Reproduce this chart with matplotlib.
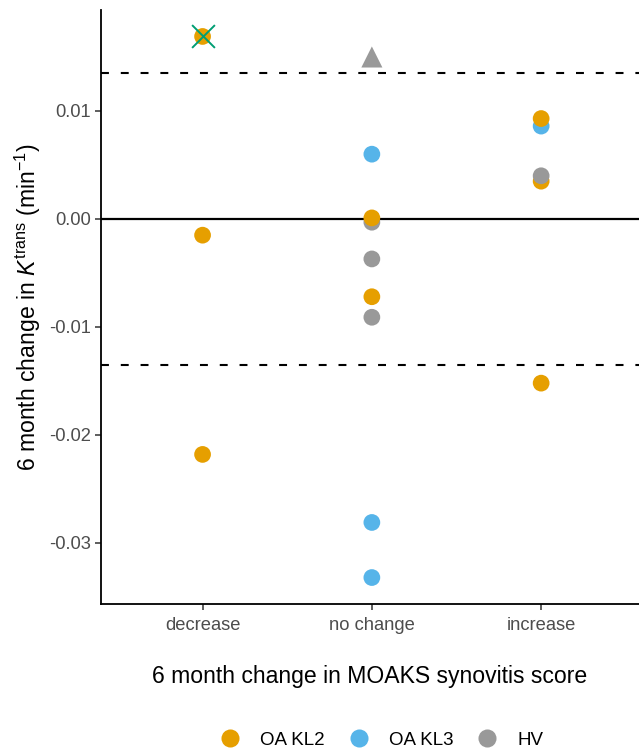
import matplotlib
matplotlib.use("Agg")
import matplotlib.pyplot as plt
from matplotlib.lines import Line2D

plt.rcParams['font.family'] = ['Liberation Sans', 'DejaVu Sans']
plt.rcParams['mathtext.fontset'] = 'custom'
plt.rcParams['mathtext.rm'] = 'Liberation Sans'
plt.rcParams['mathtext.it'] = 'Liberation Sans:italic'

categories = ["decrease", "no change", "increase"]
groups = ["OA KL2", "OA KL3", "HV"]
group_colors = {"OA KL2": "#E69F00", "OA KL3": "#56B4E9", "HV": "#999999"}

# points in drawing order
point_cat = ["decrease", "decrease", "decrease",
             "no change", "no change", "no change", "no change", "no change",
             "no change", "no change", "no change",
             "increase", "increase", "increase", "increase", "increase"]
point_grp = ["OA KL2", "OA KL2", "OA KL2",
             "OA KL3", "HV", "OA KL2", "HV", "OA KL2",
             "HV", "OA KL3", "OA KL3",
             "OA KL3", "OA KL2", "OA KL2", "HV", "OA KL2"]
point_val = [0.0169, -0.0015, -0.0218,
             0.0060, -0.0003, 0.0001, -0.0037, -0.0072,
             -0.0091, -0.0281, -0.0332,
             0.0086, 0.0093, 0.0035, 0.0040, -0.0152]

# outliers
triangle_cat = ["no change"]
triangle_val = [0.0150]
cross_cat = ["decrease"]
cross_val = [0.0169]

threshold = 0.0135

fig = plt.figure(figsize=(6.39, 7.49), dpi=100)
ax = fig.add_axes([101/639, 1 - 604/749, 1 - 101/639, (604 - 10)/749])

xpos = {c: i + 1 for i, c in enumerate(categories)}

ax.axhline(0, color="black", lw=1.6, zorder=1)
ax.axhline(threshold, color="black", lw=1.5, ls=(0, (3.8, 5.7)), zorder=1)
ax.axhline(-threshold, color="black", lw=1.5, ls=(0, (3.8, 5.7)), zorder=1)

for i, (c, g, v) in enumerate(zip(point_cat, point_grp, point_val)):
    ax.scatter(xpos[c], v, s=145, color=group_colors[g], edgecolors="none", zorder=3 + i * 0.01)

ax.scatter([xpos[c] for c in triangle_cat], triangle_val, marker="^", s=230,
           color="#999999", edgecolors="none", zorder=4)
ax.scatter([xpos[c] for c in cross_cat], cross_val, marker="x", s=270,
           color="#009E73", linewidths=1.4, zorder=5)

ax.set_xlim(0.4, 3.578)
ax.set_ylim(-0.03565, 0.01935)
ax.set_xticks([1, 2, 3])
ax.set_xticklabels(categories)
ax.set_yticks([0.01, 0.0, -0.01, -0.02, -0.03])
ax.set_yticklabels(["0.01", "0.00", "-0.01", "-0.02", "-0.03"])
ax.tick_params(axis="both", colors="#333333", labelcolor="#4D4D4D", labelsize=13.2,
               length=4, width=1.1)
ax.tick_params(axis="x", pad=5.5)
for s in ["top", "right"]:
    ax.spines[s].set_visible(False)
for s in ["left", "bottom"]:
    ax.spines[s].set_linewidth(1.3)
    ax.spines[s].set_color("black")

ax.set_xlabel("6 month change in MOAKS synovitis score", fontsize=16.6, labelpad=22)
ax.set_ylabel(r"6 month change in $\mathit{K}^{\mathrm{trans}}$ (min$^{-1}$)", fontsize=16.6, labelpad=4)

handles = [Line2D([], [], marker="o", ls="none", markersize=13,
                  markerfacecolor=group_colors[g], markeredgecolor="none", label=g)
           for g in groups]
fig.legend(handles=handles, loc="center", bbox_to_anchor=(0.598, 0.012), ncol=3,
           frameon=False, fontsize=13.5, handletextpad=1.1, columnspacing=1.3,
           handlelength=1.0, borderpad=0, borderaxespad=0)

fig.savefig("out.png", dpi=100)
